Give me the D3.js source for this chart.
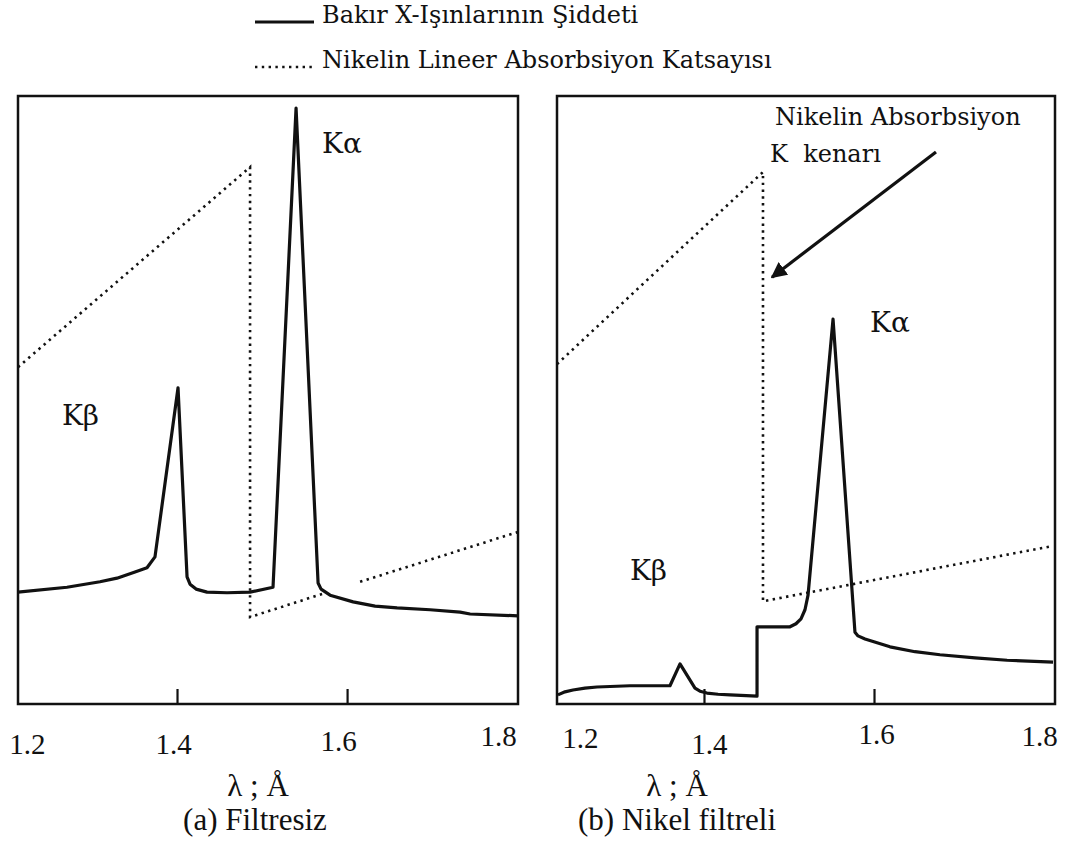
<!DOCTYPE html>
<html>
<head>
<meta charset="utf-8">
<script src="https://cdn.jsdelivr.net/npm/d3@7"></script>
<style>
  body { margin: 0; background: #fff; }
</style>
</head>
<body>
<svg id="chart" width="1067" height="848"></svg>
<script>
// tick values on the wavelength axis (Å)
const tickLambdas = [1.2, 1.4, 1.6, 1.8];
const tickMarkLambdas = [1.4, 1.6];

// (a) Filtresiz - copper X-ray intensity (relative units)
const filtresizLambda = [1.213, 1.2706, 1.3094, 1.3294, 1.3506, 1.3647, 1.3741, 1.4012, 1.4118, 1.4153, 1.4224, 1.4353, 1.4588, 1.4859, 1.5129, 1.540, 1.5659, 1.5694, 1.580, 1.6071, 1.6329, 1.6588, 1.6976, 1.7329, 1.7447, 1.801];
const filtresizIntensity = [18.4, 19.2, 20.1, 20.7, 21.7, 22.4, 24.2, 52.0, 20.9, 19.7, 18.9, 18.4, 18.3, 18.4, 19.2, 98.0, 19.9, 18.9, 17.9, 16.8, 16.1, 15.8, 15.5, 15.1, 14.8, 14.5];
// (a) nickel linear absorption coefficient (relative units), null = gap in the dotted line
const filtresizMuLambda = [1.213, 1.4859, 1.4859, 1.5706, 1.593, 1.6153, 1.801];
const filtresizMu = [55.4, 88.3, 14.3, 18.1, null, 20.1, 28.3];

// (b) Nikel filtreli
const nikelLambda = [1.2282, 1.2365, 1.2459, 1.260, 1.2741, 1.3129, 1.360, 1.3718, 1.3894, 1.3953, 1.4035, 1.4165, 1.4306, 1.4624, 1.4624, 1.5012, 1.5082, 1.5141, 1.5188, 1.5224, 1.5518, 1.5776, 1.5812, 1.5894, 1.6188, 1.6482, 1.6776, 1.7188, 1.7565, 1.8106];
const nikelIntensity = [1.5, 2.0, 2.3, 2.6, 2.8, 3.0, 3.0, 6.6, 2.6, 2.1, 1.8, 1.6, 1.5, 1.3, 12.7, 12.7, 13.2, 14.0, 15.5, 17.9, 63.3, 11.8, 11.2, 10.7, 9.4, 8.6, 8.1, 7.6, 7.2, 6.9];
const nikelMuLambda = [1.2271, 1.4694, 1.4694, 1.8106];
const nikelMu = [55.9, 87.5, 16.9, 26.0];

// layout
const W = 1067, H = 848;
const panels = [
  {
    frame: { left: 18, right: 518, top: 96, bottom: 704 },
    domain: [1.213, 1.801],
    lambda: filtresizLambda, intensity: filtresizIntensity,
    muLambda: filtresizMuLambda, mu: filtresizMu,
    labelShift: [[20, 4], [-4, 4], [-9, 1], [-19, -4]],
    axisTitleX: 258, captionX: 255, caption: "(a) Filtresiz",
    notes: [
      { text: "K\u03b1", lambda: 1.5706, value: 90.6 },
      { text: "K\u03b2", lambda: 1.2647, value: 45.9 }
    ]
  },
  {
    frame: { left: 557, right: 1055, top: 96, bottom: 704 },
    domain: [1.2271, 1.8129],
    lambda: nikelLambda, intensity: nikelIntensity,
    muLambda: nikelMuLambda, mu: nikelMu,
    labelShift: [[46, -2], [5, 4], [2, -6], [-5, -4]],
    axisTitleX: 677, captionX: 677, caption: "(b) Nikel filtreli",
    notes: [
      { text: "K\u03b1", lambda: 1.5953, value: 61.2 },
      { text: "K\u03b2", lambda: 1.3129, value: 20.4 },
      { text: "Nikelin Absorbsiyon", lambda: 1.4835, value: 95.2, size: 24 },
      { text: "K  kenar\u0131", lambda: 1.4776, value: 89.1, size: 24 }
    ],
    arrow: { from: [1.6729, 90.8], to: [1.48, 70.2] }
  }
];

const serifWide = "'DejaVu Serif', serif";
const serifTimes = "'Liberation Serif', 'Times New Roman', serif";

const svg = d3.select("#chart");
svg.append("rect").attr("width", W).attr("height", H).attr("fill", "#fff");

svg.append("defs").append("marker")
  .attr("id", "head")
  .attr("viewBox", "0 0 10 10")
  .attr("refX", 9).attr("refY", 5)
  .attr("markerWidth", 5).attr("markerHeight", 5)
  .attr("markerUnits", "strokeWidth")
  .attr("orient", "auto")
  .append("path").attr("d", "M0,0L10,5L0,10Z").attr("fill", "#111");

panels.forEach(p => {
  const f = p.frame;
  const x = d3.scaleLinear().domain(p.domain).range([f.left, f.right]);
  const y = d3.scaleLinear().domain([0, 100]).range([f.bottom, f.top]);
  const g = svg.append("g");

  // tick marks pointing into the plot
  const ticks = g.append("g")
    .attr("transform", `translate(0,${f.bottom})`)
    .call(d3.axisBottom(x).tickValues(tickMarkLambdas).tickSize(-15).tickFormat(""));
  ticks.select(".domain").remove();
  ticks.selectAll("line").attr("stroke", "#111").attr("stroke-width", 2.2);

  // tick labels
  const labels = g.append("g")
    .attr("transform", `translate(0,${f.bottom})`)
    .call(d3.axisBottom(x).tickValues(tickLambdas).tickSize(0).tickPadding(0).tickFormat(d3.format(".1f")));
  labels.attr("font-family", serifTimes).attr("font-size", 29);
  labels.select(".domain").remove();
  labels.selectAll("text")
    .attr("fill", "#111")
    .attr("dy", null)
    .attr("x", (d, i) => p.labelShift[i][0])
    .attr("y", (d, i) => 46 + p.labelShift[i][1]);

  // frame
  g.append("rect")
    .attr("x", f.left).attr("y", f.top)
    .attr("width", f.right - f.left).attr("height", f.bottom - f.top)
    .attr("fill", "none").attr("stroke", "#111").attr("stroke-width", 2.5);

  // absorption coefficient (dotted)
  const muPts = p.muLambda.map((l, i) => [l, p.mu[i]]);
  g.append("path")
    .attr("d", d3.line().defined(d => d[1] != null).x(d => x(d[0])).y(d => y(d[1]))(muPts))
    .attr("fill", "none").attr("stroke", "#111")
    .attr("stroke-width", 2.6).attr("stroke-dasharray", "2.4,4.4");

  // copper X-ray intensity (solid)
  const iPts = p.lambda.map((l, i) => [l, p.intensity[i]]);
  g.append("path")
    .attr("d", d3.line().x(d => x(d[0])).y(d => y(d[1]))(iPts))
    .attr("fill", "none").attr("stroke", "#111")
    .attr("stroke-width", 3.2).attr("stroke-linejoin", "round");

  // annotations
  p.notes.forEach(n => {
    g.append("text")
      .attr("x", x(n.lambda)).attr("y", y(n.value))
      .attr("font-family", serifWide).attr("font-size", n.size || 28)
      .attr("fill", "#111")
      .style("white-space", "pre")
      .text(n.text);
  });

  if (p.arrow) {
    g.append("line")
      .attr("x1", x(p.arrow.from[0])).attr("y1", y(p.arrow.from[1]))
      .attr("x2", x(p.arrow.to[0])).attr("y2", y(p.arrow.to[1]))
      .attr("stroke", "#111").attr("stroke-width", 3.2)
      .attr("marker-end", "url(#head)");
  }

  // axis title and caption
  g.append("text")
    .attr("x", p.axisTitleX).attr("y", 796)
    .attr("text-anchor", "middle")
    .attr("font-family", serifTimes).attr("font-size", 31).attr("fill", "#111")
    .text("\u03bb ; \u00c5");
  g.append("text")
    .attr("x", p.captionX).attr("y", 830)
    .attr("text-anchor", "middle")
    .attr("font-family", serifTimes).attr("font-size", 31).attr("fill", "#111")
    .text(p.caption);
});

// legend
const legendItems = [
  { label: "Bak\u0131r X-I\u015f\u0131nlar\u0131n\u0131n \u015eiddeti", dash: null },
  { label: "Nikelin Lineer Absorbsiyon Katsay\u0131s\u0131", dash: "2.4,4.4" }
];
const legend = svg.append("g");
legendItems.forEach((d, i) => {
  const yy = 22 + i * 45;
  legend.append("line")
    .attr("x1", 255).attr("x2", 314).attr("y1", yy).attr("y2", yy)
    .attr("stroke", "#111")
    .attr("stroke-width", d.dash ? 2.4 : 2.8)
    .attr("stroke-dasharray", d.dash);
  legend.append("text")
    .attr("x", 322).attr("y", yy + 1)
    .attr("font-family", serifWide).attr("font-size", 24).attr("fill", "#111")
    .text(d.label);
});
</script>
</body>
</html>
